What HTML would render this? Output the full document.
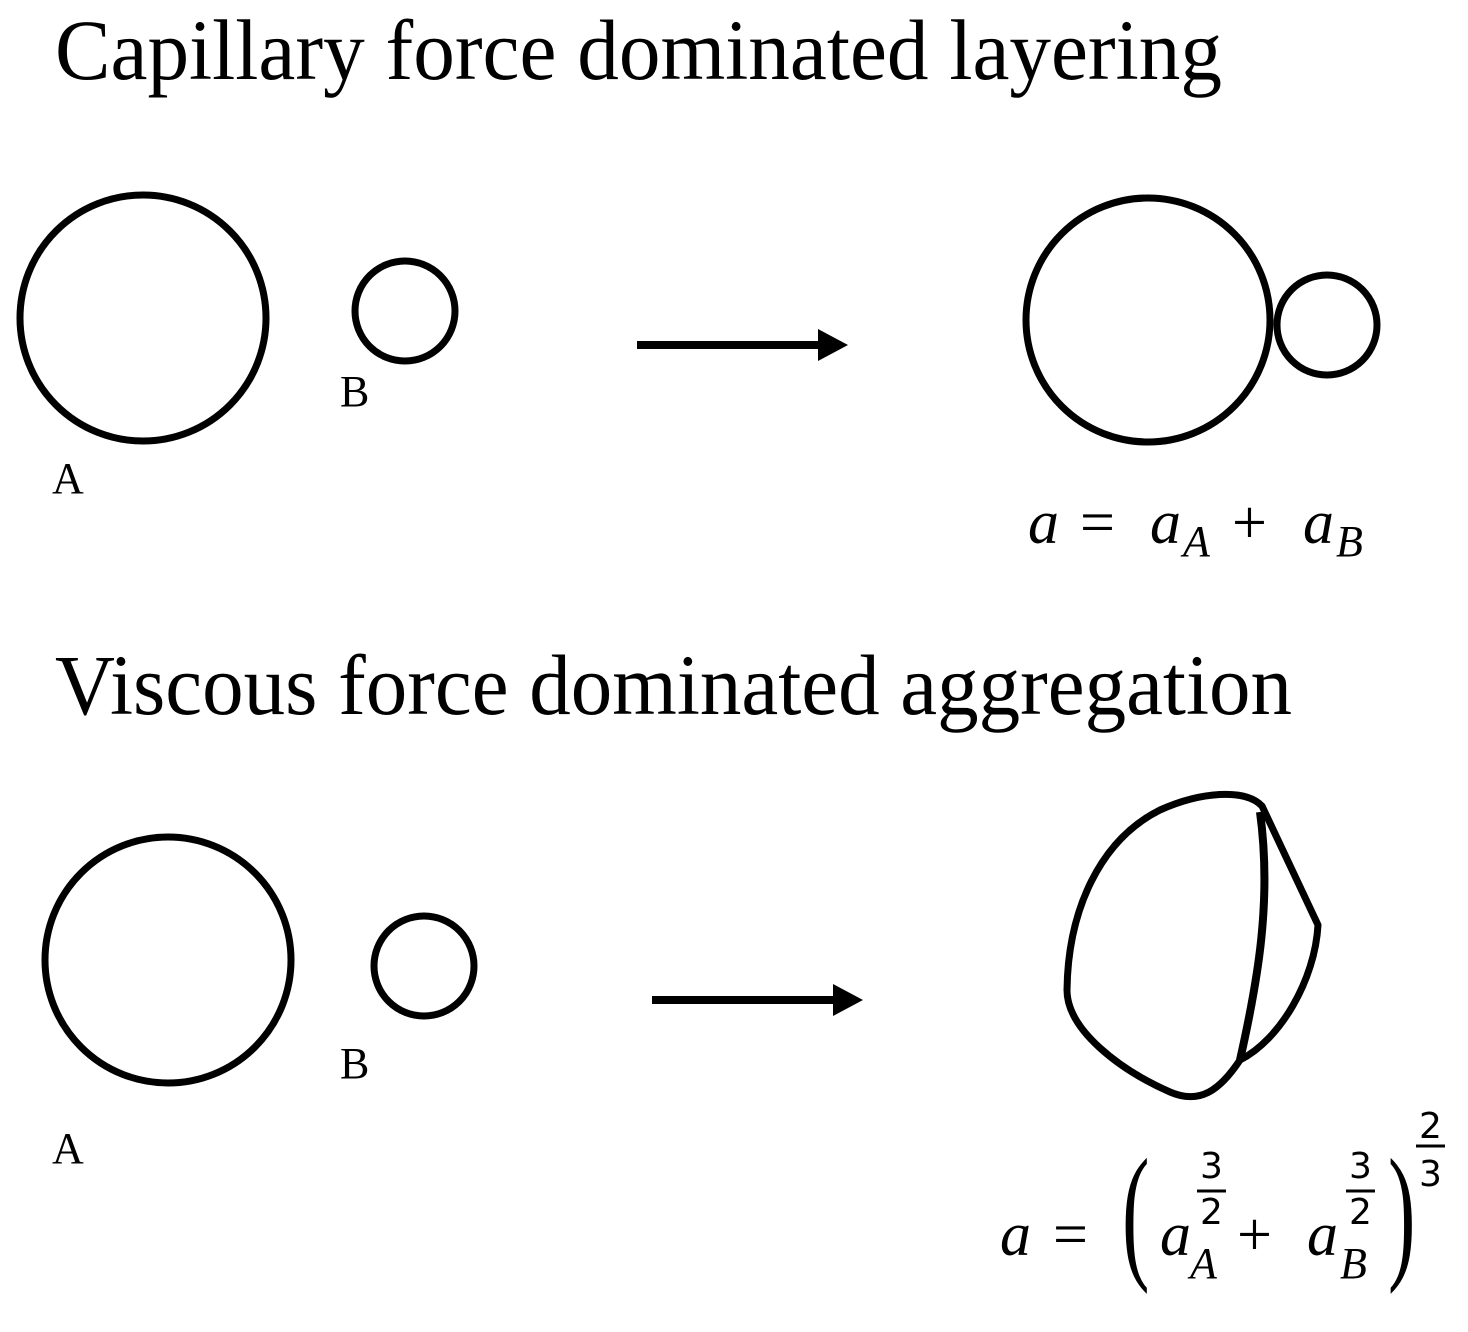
<!DOCTYPE html>
<html><head><style>body{margin:0;background:#fff}svg{display:block}</style></head>
<body>
<svg width="1468" height="1332" viewBox="0 0 1468 1332" xmlns="http://www.w3.org/2000/svg">
<g font-family="Liberation Serif, serif" fill="#000">
<text x="55" y="79" font-size="86" textLength="1167" lengthAdjust="spacingAndGlyphs">Capillary force dominated layering</text>
<text x="55" y="714" font-size="86" textLength="1237" lengthAdjust="spacingAndGlyphs">Viscous force dominated aggregation</text>
<text x="52" y="493" font-size="44">A</text>
<text x="340" y="406" font-size="44">B</text>
<text x="52" y="1163" font-size="44">A</text>
<text x="340" y="1078" font-size="44">B</text>
</g>
<g fill="none" stroke="#000" stroke-width="7">
<circle cx="143" cy="318" r="123"/>
<circle cx="405" cy="311" r="50"/>
<circle cx="1148" cy="320" r="122"/>
<circle cx="1327" cy="325" r="50"/>
<circle cx="168" cy="960" r="123"/>
<circle cx="424" cy="966" r="50"/>
<line x1="637" y1="345" x2="822" y2="345" stroke-width="8"/>
<line x1="652" y1="1000" x2="837" y2="1000" stroke-width="8"/>
<path d="M1262,806 C1245,788 1200,792 1160,810 C1100,840 1068,910 1067,990 C1067,1030 1120,1070 1170,1092 C1200,1105 1220,1090 1240,1060 C1280,1040 1315,980 1318,925 L1262,806 Z" stroke-linejoin="round"/>
<path d="M1260,812 C1272,900 1258,980 1240,1060" stroke-width="8"/>
</g>
<polygon points="818,329 848,345 818,361" fill="#000"/>
<polygon points="833,984 863,1000 833,1016" fill="#000"/>
<g font-family="Liberation Serif, serif" fill="#000">
<text x="1028" y="543" font-size="62" font-style="italic">a</text>
<text x="1080" y="543" font-size="62">=</text>
<text x="1150" y="543" font-size="62" font-style="italic">a</text>
<text x="1183" y="556" font-size="44" font-style="italic">A</text>
<text x="1232" y="543" font-size="62">+</text>
<text x="1303" y="543" font-size="62" font-style="italic">a</text>
<text x="1336" y="556" font-size="44" font-style="italic">B</text>

<text x="1000" y="1255" font-size="62" font-style="italic">a</text>
<text x="1053" y="1255" font-size="62">=</text>
<text x="1122" y="1262" font-size="150" transform="translate(1122 1262) scale(0.55 1) translate(-1122 -1262)">(</text>
<text x="1160" y="1255" font-size="62" font-style="italic">a</text>
<text x="1190" y="1278" font-size="44" font-style="italic">A</text>
<text x="1237" y="1255" font-size="62">+</text>
<text x="1307" y="1255" font-size="62" font-style="italic">a</text>
<text x="1340" y="1278" font-size="44" font-style="italic">B</text>
<text x="1388" y="1262" font-size="150" transform="translate(1388 1262) scale(0.55 1) translate(-1388 -1262)">)</text>
</g>
<g font-family="DejaVu Sans, sans-serif" fill="#000" font-size="36">
<text x="1200" y="1178">3</text>
<line x1="1197" y1="1191" x2="1226" y2="1191" stroke="#000" stroke-width="3"/>
<text x="1200" y="1224">2</text>
<text x="1349" y="1178">3</text>
<line x1="1346" y1="1191" x2="1375" y2="1191" stroke="#000" stroke-width="3"/>
<text x="1349" y="1224">2</text>
<text x="1419" y="1138">2</text>
<line x1="1416" y1="1146" x2="1445" y2="1146" stroke="#000" stroke-width="3"/>
<text x="1419" y="1186">3</text>
</g>
</svg>
</body></html>
